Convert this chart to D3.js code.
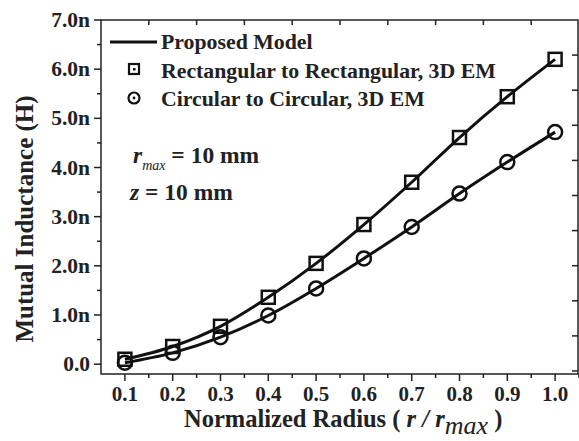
<!DOCTYPE html>
<html>
<head>
<meta charset="utf-8">
<script src="https://cdn.jsdelivr.net/npm/d3@7"></script>
<style>
  body { margin: 0; background: #fff; }
  svg { display: block; font-family: "Liberation Serif", "Times New Roman", serif; font-weight: bold; }
</style>
</head>
<body>
<svg id="chart" width="579" height="441"></svg>
<script>
// data (inductance in nH)
var radius = [0.1, 0.2, 0.3, 0.4, 0.5, 0.6, 0.7, 0.8, 0.9, 1.0];
var rectEM = [0.10, 0.36, 0.77, 1.36, 2.05, 2.84, 3.70, 4.61, 5.44, 6.20];
var circEM = [0.03, 0.23, 0.55, 0.99, 1.54, 2.15, 2.79, 3.47, 4.11, 4.72];
var yTicks = [0, 1, 2, 3, 4, 5, 6, 7];
var xTicks = [0.1, 0.2, 0.3, 0.4, 0.5, 0.6, 0.7, 0.8, 0.9, 1.0];
var legendLabels = ["Proposed Model", "Rectangular to Rectangular, 3D EM", "Circular to Circular, 3D EM"];

var margin = {top: 20, right: 0, bottom: 67, left: 101},
    width = 579, height = 441;

var svg = d3.select("#chart");

var x = d3.scaleLinear().domain([0.05, 1.05]).range([margin.left, width - margin.right]);
var y = d3.scaleLinear().domain([-0.2, 7.0]).range([height - margin.bottom, margin.top]);
// right side has its own evenly spaced ticks
var yRight = d3.scaleLinear().domain([0, 10]).range([371, margin.top]);

var x0 = x.range()[0], x1 = x.range()[1] - 1, y0 = y.range()[0], y1 = y.range()[1];

// frame
svg.append("rect")
    .attr("x", x0).attr("y", y1)
    .attr("width", x1 - x0).attr("height", y0 - y1)
    .attr("fill", "none").attr("stroke", "#222").attr("stroke-width", 1.5);

var ax = svg.append("g").attr("stroke", "#222").attr("stroke-width", 1.5);

// left ticks (outward) with minors
d3.range(0, 7.01, 0.5).forEach(function(v) {
    var major = Math.abs(v - Math.round(v)) < 1e-6;
    ax.append("line").attr("x1", x0).attr("x2", x0 - (major ? 7 : 4))
        .attr("y1", y(v)).attr("y2", y(v));
});
// bottom ticks (outward)
d3.range(0.1, 1.051, 0.05).forEach(function(v) {
    var major = Math.abs(v * 10 - Math.round(v * 10)) < 1e-6;
    ax.append("line").attr("x1", x(v)).attr("x2", x(v))
        .attr("y1", y0).attr("y2", y0 + (major ? 7 : 4));
});
// top ticks (inward)
d3.range(0.15, 1.0, 0.1).forEach(function(v) {
    ax.append("line").attr("x1", x(v)).attr("x2", x(v))
        .attr("y1", y1).attr("y2", y1 + 5);
});
// right ticks (inward)
d3.range(0, 10).forEach(function(v) {
    ax.append("line").attr("x1", x1).attr("x2", x1 - 6)
        .attr("y1", yRight(v)).attr("y2", yRight(v));
});

// tick labels
svg.append("g").selectAll("text").data(yTicks).enter().append("text")
    .attr("x", x0 - 11).attr("y", function(d) { return y(d) + 7; })
    .attr("text-anchor", "end").attr("font-size", 21.5).attr("fill", "#222")
    .text(function(d) { return d === 0 ? "0.0" : d.toFixed(1) + "n"; });

svg.append("g").selectAll("text").data(xTicks).enter().append("text")
    .attr("x", function(d) { return x(d); }).attr("y", y0 + 27)
    .attr("text-anchor", "middle").attr("font-size", 21).attr("fill", "#222")
    .text(function(d) { return d.toFixed(1); });

// axis titles
svg.append("text")
    .attr("transform", "translate(33,219) rotate(-90)")
    .attr("text-anchor", "middle").attr("font-size", 25).attr("fill", "#222")
    .text("Mutual Inductance (H)");

var xt = svg.append("text")
    .attr("x", 184).attr("y", 427)
    .attr("font-size", 24.5).attr("fill", "#222");
xt.append("tspan").text("Normalized Radius ( ");
xt.append("tspan").attr("font-style", "italic").text("r / r");
xt.append("tspan").attr("font-style", "italic").attr("font-weight", "normal")
    .attr("dy", 7).attr("font-size", 26).text("max");
xt.append("tspan").attr("dy", -7).text(" )");

// curves (proposed model) through the points
var line = d3.line()
    .x(function(d, i) { return x(radius[i]); })
    .y(function(d) { return y(d); })
    .curve(d3.curveMonotoneX);

[rectEM, circEM].forEach(function(s) {
    svg.append("path").datum(s).attr("d", line)
        .attr("fill", "none").attr("stroke", "#111").attr("stroke-width", 3);
});

// markers
svg.append("g").selectAll("rect").data(rectEM).enter().append("rect")
    .attr("x", function(d, i) { return x(radius[i]) - 6.5; })
    .attr("y", function(d) { return y(d) - 6.5; })
    .attr("width", 13).attr("height", 13)
    .attr("fill", "none").attr("stroke", "#111").attr("stroke-width", 2.5);

svg.append("g").selectAll("circle").data(circEM).enter().append("circle")
    .attr("cx", function(d, i) { return x(radius[i]); })
    .attr("cy", function(d) { return y(d); })
    .attr("r", 7)
    .attr("fill", "none").attr("stroke", "#111").attr("stroke-width", 2.5);

// legend
var lg = svg.append("g").attr("fill", "#222");
lg.append("line").attr("x1", 110).attr("x2", 157).attr("y1", 42).attr("y2", 42)
    .attr("stroke", "#111").attr("stroke-width", 3);
lg.append("rect").attr("x", 129).attr("y", 64).attr("width", 10).attr("height", 10)
    .attr("fill", "none").attr("stroke", "#111").attr("stroke-width", 2.2);
lg.append("rect").attr("x", 133).attr("y", 68).attr("width", 2.5).attr("height", 2.5).attr("fill", "#111");
lg.append("circle").attr("cx", 134).attr("cy", 98).attr("r", 5.5)
    .attr("fill", "none").attr("stroke", "#111").attr("stroke-width", 2.2);
lg.append("circle").attr("cx", 134).attr("cy", 98).attr("r", 1.4).attr("fill", "#111");
lg.selectAll("text").data(legendLabels).enter().append("text")
    .attr("x", 161).attr("y", function(d, i) { return 49 + i * 28.5; })
    .attr("font-size", 21.8).text(function(d) { return d; });

// annotations
var a1 = svg.append("text").attr("x", 133).attr("y", 163).attr("font-size", 23.5).attr("fill", "#222");
a1.append("tspan").attr("font-style", "italic").text("r");
a1.append("tspan").attr("font-style", "italic").attr("font-weight", "normal")
    .attr("font-size", 14).attr("dy", 7).text("max");
a1.append("tspan").attr("dy", -7).text(" = 10 mm");

var a2 = svg.append("text").attr("x", 130).attr("y", 200).attr("font-size", 23.5).attr("fill", "#222");
a2.append("tspan").attr("font-style", "italic").text("z");
a2.append("tspan").text(" = 10 mm");
</script>
</body>
</html>
